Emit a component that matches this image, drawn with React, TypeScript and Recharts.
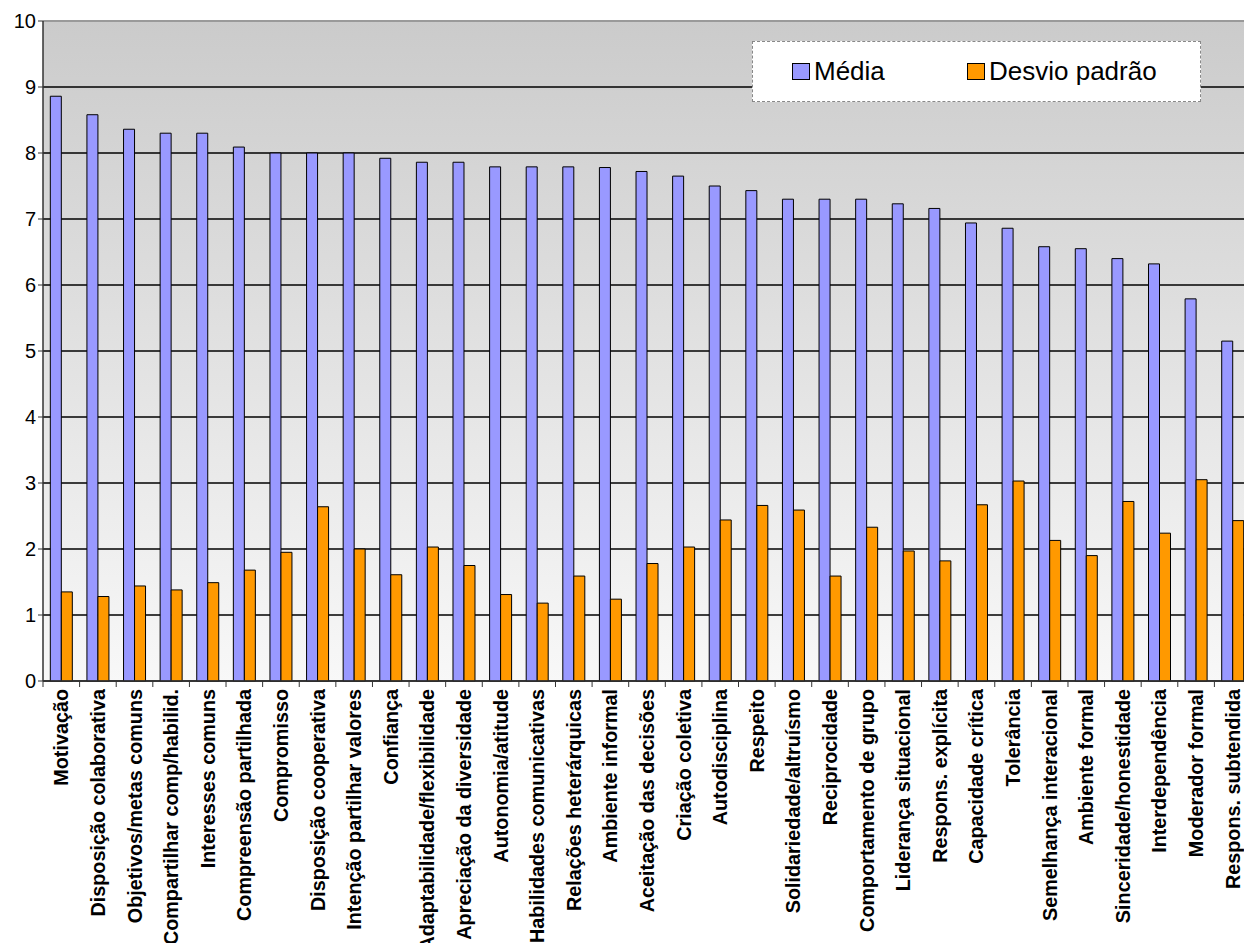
import React from 'react';
import { BarChart, Bar, XAxis, YAxis, CartesianGrid, Legend, ReferenceLine } from 'recharts';

const categories = [
  'Motivação', 'Disposição colaborativa', 'Objetivos/metas comuns', 'Compartilhar comp/habilid.',
  'Interesses comuns', 'Compreensão partilhada', 'Compromisso', 'Disposição cooperativa',
  'Intenção partilhar valores', 'Confiança', 'Adaptabilidade/flexibilidade', 'Apreciação da diversidade',
  'Autonomia/atitude', 'Habilidades comunicativas', 'Relações heterárquicas', 'Ambiente informal',
  'Aceitação das decisões', 'Criação coletiva', 'Autodisciplina', 'Respeito',
  'Solidariedade/altruísmo', 'Reciprocidade', 'Comportamento de grupo', 'Liderança situacional',
  'Respons. explícita', 'Capacidade crítica', 'Tolerância', 'Semelhança interacional',
  'Ambiente formal', 'Sinceridade/honestidade', 'Interdependência', 'Moderador formal',
  'Respons. subtendida',
];

const media = [
  8.86, 8.58, 8.36, 8.3, 8.3, 8.09, 8.0, 8.0, 8.0, 7.92, 7.86, 7.86, 7.79, 7.79, 7.79, 7.78,
  7.72, 7.65, 7.5, 7.43, 7.3, 7.3, 7.3, 7.23, 7.16, 6.94, 6.86, 6.58, 6.55, 6.4, 6.32, 5.79, 5.15,
];

const desvio = [
  1.35, 1.28, 1.44, 1.38, 1.49, 1.68, 1.95, 2.64, 2.0, 1.61, 2.03, 1.75, 1.31, 1.18, 1.59, 1.24,
  1.78, 2.03, 2.44, 2.66, 2.59, 1.59, 2.33, 1.97, 1.82, 2.67, 3.03, 2.13, 1.9, 2.72, 2.24, 3.05, 2.43,
];

const yTicks = [0, 1, 2, 3, 4, 5, 6, 7, 8, 9, 10];

const seriesNames = { media: 'Média', desvio: 'Desvio padrão' };
const BLUE = '#9999ff';
const ORANGE = '#ff9900';
const FONT = '"Liberation Sans", Arial, sans-serif';

const CHART_W = 1260;
const CHART_H = 943;
const MARGIN = { top: 21, right: 9, left: 0, bottom: 0 };
const Y_W = 43;
const X_H = 262;
const STEP = (CHART_W - MARGIN.left - MARGIN.right - Y_W) / categories.length;

const data = categories.map((name, i) => ({ name, media: media[i], desvio: desvio[i] }));

// rotated bold labels + tick marks on the category boundaries
const CategoryTick = (props: any) => {
  const { x, y, payload, index } = props;
  const last = index === categories.length - 1;
  return (
    <g>
      <line x1={x - STEP / 2} x2={x - STEP / 2} y1={y - 8} y2={y - 2} stroke="#333" />
      {last && <line x1={x + STEP / 2} x2={x + STEP / 2} y1={y - 8} y2={y - 2} stroke="#333" />}
      <text
        transform={`translate(${x},${y}) rotate(-90)`}
        textAnchor="end"
        dominantBaseline="central"
        fontSize={19.8}
        fontWeight="bold"
        fontFamily={FONT}
        fill="#000"
      >
        {payload.value}
      </text>
    </g>
  );
};

const LegendBox = () => {
  const swatch = (color: string) => (
    <span style={{ display: 'inline-block', width: 16, height: 15, background: color, border: '1.5px solid #000', marginRight: 4 }} />
  );
  return (
    <div
      style={{
        width: 449, height: 61, boxSizing: 'border-box', background: '#fff', border: '1px dashed #888',
        display: 'flex', alignItems: 'center', paddingLeft: 39, fontFamily: FONT, fontSize: 26, color: '#000',
      }}
    >
      <span style={{ display: 'flex', alignItems: 'center', width: 175 }}>{swatch(BLUE)}{seriesNames.media}</span>
      <span style={{ display: 'flex', alignItems: 'center' }}>{swatch(ORANGE)}{seriesNames.desvio}</span>
    </div>
  );
};

export default function App() {
  return (
    <div style={{ position: 'absolute', left: 0, top: 0, width: 1244, height: 943, overflow: 'hidden', background: '#fff' }}>
      <BarChart width={CHART_W} height={CHART_H} data={data} margin={MARGIN} barCategoryGap="20%" barGap={0}>
        <defs>
          <linearGradient id="bgGrad" x1="0" y1="0" x2="0" y2="1">
            <stop offset="0%" stopColor="#cbcbcb" />
            <stop offset="100%" stopColor="#f8f8f8" />
          </linearGradient>
        </defs>
        <CartesianGrid vertical={false} fill="url(#bgGrad)" fillOpacity={1} stroke="#000" strokeWidth={1.3} />
        <ReferenceLine y={10} stroke="#9a9a9a" strokeWidth={2} />
        <XAxis
          dataKey="name"
          interval={0}
          height={X_H}
          tickSize={6}
          tickMargin={2}
          tickLine={false}
          axisLine={{ stroke: '#333', strokeWidth: 1.5 }}
          tick={<CategoryTick />}
        />
        <YAxis
          width={Y_W}
          domain={[0, 10]}
          ticks={yTicks}
          interval={0}
          tickSize={5}
          tickMargin={2}
          axisLine={{ stroke: '#333', strokeWidth: 1.5 }}
          tickLine={{ stroke: '#333' }}
          tick={{ fontSize: 20, fill: '#000', fontFamily: FONT }}
        />
        <Legend
          layout="horizontal"
          verticalAlign="middle"
          align="center"
          content={<LegendBox />}
          wrapperStyle={{ left: 752, top: 41, width: 449, height: 61 }}
        />
        <Bar dataKey="media" name={seriesNames.media} fill={BLUE} stroke="#000" strokeWidth={1} isAnimationActive={false} />
        <Bar dataKey="desvio" name={seriesNames.desvio} fill={ORANGE} stroke="#000" strokeWidth={1} isAnimationActive={false} />
      </BarChart>
    </div>
  );
}
